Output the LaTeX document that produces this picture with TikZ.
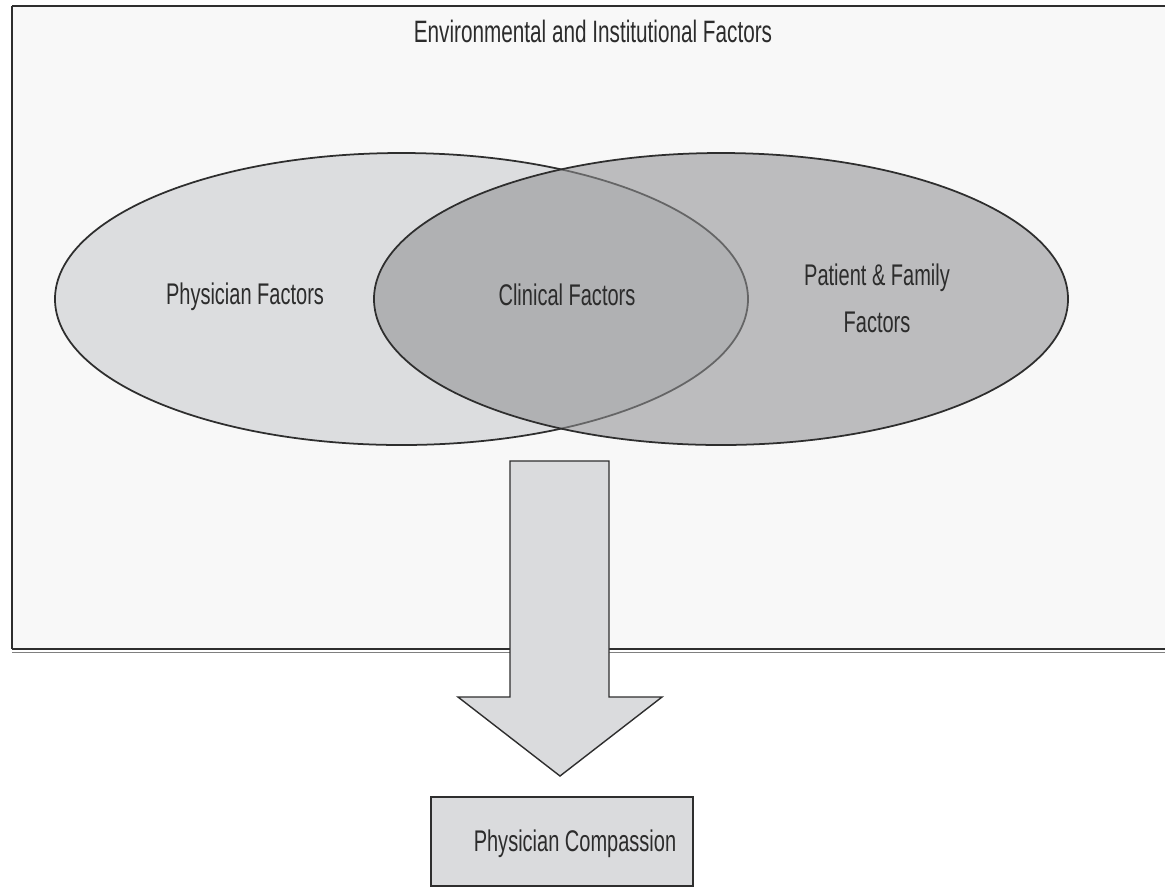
\documentclass[tikz,border=0pt]{standalone}
\usepackage{fontspec}
\setmainfont[FakeStretch=0.67]{Liberation Sans}
\usepackage{tikz}

\definecolor{framebg}{HTML}{F8F8F8}
\definecolor{lightfill}{HTML}{DCDDDF}
\definecolor{darkfill}{HTML}{8F9092}
\definecolor{arrowfill}{HTML}{DADBDD}
\definecolor{edgegray}{HTML}{2E2E2E}
\definecolor{textgray}{HTML}{2C2C2C}

\begin{document}
\begin{tikzpicture}[x=0.2mm,y=-0.2mm,
	factortext/.style={text=textgray,font=\fontsize{17}{26.7}\selectfont,align=center,inner sep=0pt,anchor=base},
	outline/.style={draw=edgegray,line width=1pt}]
	\useasboundingbox (0,0) rectangle (1165,888);
	% surrounding frame
	\coordinate (F0) at (12,6);
	\coordinate (F1) at (1165,6);
	\coordinate (F2) at (1165,649);
	\coordinate (F3) at (12,649);
	\path[fill=framebg] (F0) rectangle (F2);
	\draw[outline] (F0) -- (F1);
	\draw[outline] (F0) -- (F3);
	\draw[draw=edgegray,line width=0.6pt] (F3) -- (F2);
	\draw[draw=gray,line width=0.5pt] ([yshift=-0.6mm]F3) -- ([yshift=-0.6mm]F2);
	\draw (593,42) node[factortext,font=\fontsize{17.6}{26.7}\selectfont] (env) {Environmental and Institutional Factors};
	% the two ellipses
	\coordinate (E1) at (401.5,299);
	\coordinate (E2) at (721,299);
	\path[fill=lightfill] (E1) ellipse [x radius=346.5, y radius=146];
	\draw[outline] (E1) ellipse [x radius=346.5, y radius=146];
	\path[fill=darkfill, fill opacity=0.57] (E2) ellipse [x radius=347, y radius=146];
	\draw[outline] (E2) ellipse [x radius=347, y radius=146];
	\draw (245,304) node[factortext] (phys) {Physician Factors};
	\draw (567,305) node[factortext] (clin) {Clinical Factors};
	\draw (877,332) node[factortext] (pat) {Patient \& Family\\Factors};
	% block arrow
	\coordinate (B0) at (510,461);
	\coordinate (B1) at (609,461);
	\coordinate (B2) at (609,697);
	\coordinate (B3) at (662,697);
	\coordinate (B4) at (560,776);
	\coordinate (B5) at (458,697);
	\coordinate (B6) at (510,697);
	\draw[outline, fill=arrowfill, line width=0.8pt] (B0) -- (B1) -- (B2) -- (B3) -- (B4) -- (B5) -- (B6) -- cycle;
	% outcome box
	\coordinate (C0) at (431,797);
	\coordinate (C1) at (693,886);
	\draw[outline, fill=arrowfill] (C0) rectangle (C1);
	\draw (575,851) node[factortext] (comp) {Physician Compassion};
\end{tikzpicture}
\end{document}
